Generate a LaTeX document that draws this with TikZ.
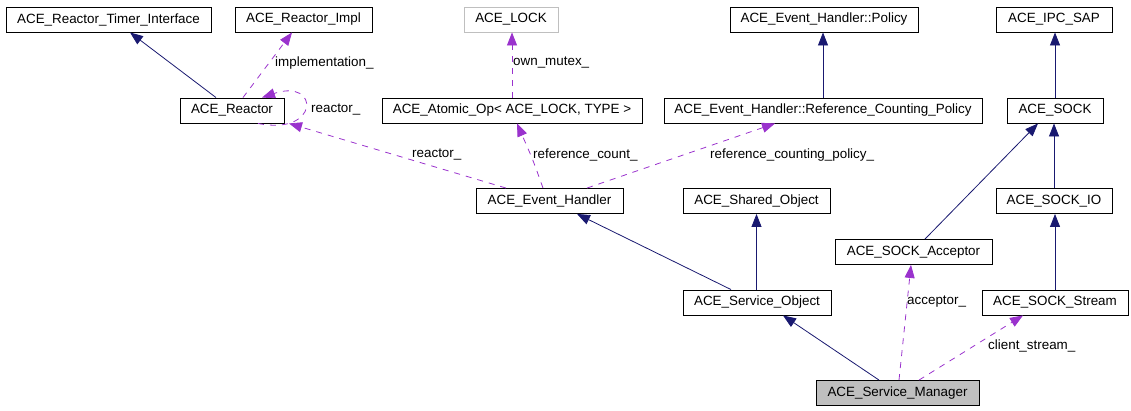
\documentclass[tikz,border=0pt]{standalone}
\usepackage{fontspec}
\setmainfont{Liberation Sans}
\usetikzlibrary{arrows.meta}
\definecolor{navy}{RGB}{25,25,112}
\definecolor{orchid}{RGB}{154,50,205}
\definecolor{lgray}{RGB}{191,191,191}
\tikzset{
  cls/.style={draw=black, line width=0.9pt, minimum height=25pt, inner sep=0pt, font=\fontsize{13.4}{15}\selectfont, text=black},
  inh/.style={draw=navy, line width=0.8pt, -{Triangle[length=13pt,width=10pt]}, color=navy},
  use/.style={draw=orchid, line width=0.8pt, dash pattern=on 6pt off 6pt, -{Triangle[length=13pt,width=10pt]}, color=orchid},
  lbl/.style={font=\fontsize{13.4}{15}\selectfont, text=black, inner sep=0pt, anchor=west}
}
\begin{document}
\begin{tikzpicture}[x=1pt,y=-1pt]
\useasboundingbox (0,0) rectangle (1131,411);
% top row
\node[cls, minimum width=205pt] (TI) at (108.5,19.5) {ACE\_Reactor\_Timer\_Interface};
\node[cls, minimum width=137pt] (IM) at (303.5,19.5) {ACE\_Reactor\_Impl};
\node[cls, draw=lgray, minimum width=94pt] (LK) at (511,19.5) {ACE\_LOCK};
\node[cls, minimum width=188pt] (PO) at (824,19.5) {ACE\_Event\_Handler::Policy};
\node[cls, minimum width=116pt] (IPC) at (1054,19.5) {ACE\_IPC\_SAP};
% second row
\node[cls, minimum width=104pt] (R) at (232,110.5) {ACE\_Reactor};
\node[cls, minimum width=260pt] (A) at (512,110.5) {ACE\_Atomic\_Op< ACE\_LOCK, TYPE >};
\node[cls, minimum width=318pt] (RCP) at (823,110.5) {ACE\_Event\_Handler::Reference\_Counting\_Policy};
\node[cls, minimum width=96pt] (S) at (1055,110.5) {ACE\_SOCK};
% third row
\node[cls, minimum width=147pt] (EH) at (549.5,201) {ACE\_Event\_Handler};
\node[cls, minimum width=147pt] (SH) at (756.5,201) {ACE\_Shared\_Object};
\node[cls, minimum width=116pt] (SIO) at (1054,201) {ACE\_SOCK\_IO};
\node[cls, minimum width=157pt] (ACC) at (913.5,252) {ACE\_SOCK\_Acceptor};
\node[cls, minimum width=148pt] (SO) at (757,302.5) {ACE\_Service\_Object};
\node[cls, minimum width=146pt] (SS) at (1055,302.5) {ACE\_SOCK\_Stream};
\node[cls, fill=lgray, minimum width=163pt] (M) at (897.5,393) {ACE\_Service\_Manager};

% inheritance
\draw[inh] ([xshift=-16pt]R.north) -- ([xshift=21.5pt]TI.south);
\draw[inh] (RCP.north) -- (RCP.north |- PO.south);
\draw[inh] (S.north) -- (S.north |- IPC.south);
\draw[inh] ([xshift=11.5pt]ACC.north) -- ([xshift=-17pt]S.south);
\draw[inh] (SIO.north) -- (SIO.north |- S.south);
\draw[inh] (SS.north) -- (SS.north |- SIO.south);
\draw[inh] (SO.north -| SH.south) -- (SH.south);
\draw[inh] ([xshift=-26pt]SO.north) -- ([xshift=27.5pt]EH.south);
\draw[inh] ([xshift=-18.5pt]M.north) -- ([xshift=26pt]SO.south);

% usage
\draw[use] ([xshift=11pt]R.north) -- ([xshift=-11.5pt]IM.south);
\node[lbl] (limp) at (275,63) {implementation\_};
\draw[use] ([xshift=26pt]R.south) .. controls (320,136) and (320,78) .. ([xshift=30pt]R.north);
\node[lbl] (lrs) at (311,110) {reactor\_};
\draw[use] ([xshift=-43.5pt]EH.north) -- ([xshift=57pt]R.south);
\node[lbl] (lr) at (412,155) {reactor\_};
\draw[use] ([xshift=-6.5pt]EH.north) .. controls (533,160) .. ([xshift=5pt]A.south);
\node[lbl] (lrc) at (533,155) {reference\_count\_};
\draw[use] ([xshift=37.5pt]EH.north) -- ([xshift=-48pt]RCP.south);
\node[lbl] (lrcp) at (710,155) {reference\_counting\_policy\_};
\draw[use] (A.north) -- (A.north |- LK.south);
\node[lbl] (lom) at (513,63) {own\_mutex\_};
\draw[use] ([xshift=1.5pt]M.north) -- ([xshift=-2.5pt]ACC.south);
\node[lbl] (lacc) at (907,302) {acceptor\_};
\draw[use] ([xshift=21.5pt]M.north) -- ([xshift=-32pt]SS.south);
\node[lbl] (lcs) at (988,346) {client\_stream\_};
\end{tikzpicture}
\end{document}
